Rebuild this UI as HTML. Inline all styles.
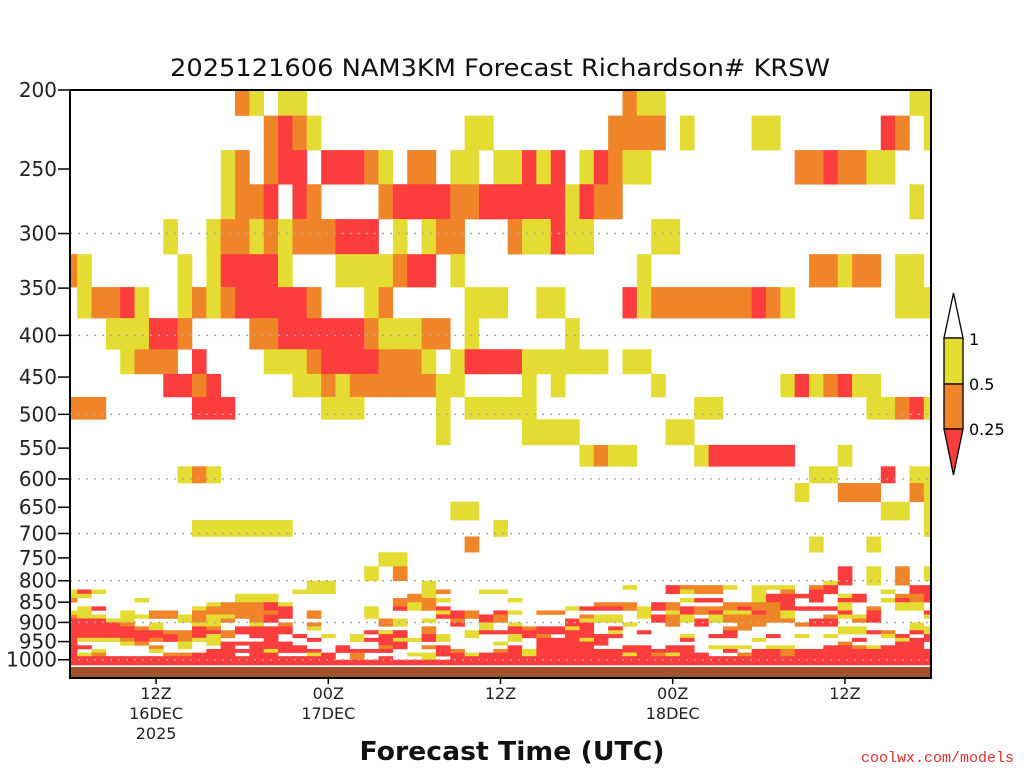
<!DOCTYPE html>
<html><head><meta charset="utf-8"><style>
html,body{margin:0;padding:0;background:#fff;}
svg{display:block;font-family:"DejaVu Sans","Liberation Sans",sans-serif;}
</style></head><body>
<svg id="chart" width="1024" height="768" viewBox="0 0 1024 768" xmlns="http://www.w3.org/2000/svg">
<rect x="0" y="0" width="1024" height="768" fill="#fff"/>
<text x="500" y="76" font-size="24" text-anchor="middle" textLength="660" lengthAdjust="spacingAndGlyphs" fill="#111">2025121606 NAM3KM Forecast Richardson# KRSW</text>
<g id="cells"></g>
<g id="grid"></g>
<rect x="70" y="667" width="861" height="10" fill="#a0522d"/>
<rect x="70" y="90" width="861" height="588" fill="none" stroke="#000" stroke-width="2"/>
<g id="yaxis"></g>
<g id="xaxis"></g>
<text x="512" y="760" font-size="26" font-weight="bold" text-anchor="middle" textLength="305" lengthAdjust="spacingAndGlyphs" fill="#111">Forecast Time (UTC)</text>
<text x="1014" y="762" font-size="15" text-anchor="end" fill="#e03030" font-family="Liberation Mono, monospace">coolwx.com/models</text>
<g>
<polygon points="944,338 953.5,293 963,338" fill="#fff" stroke="#000" stroke-width="1.3"/>
<rect x="944" y="338" width="19" height="46" fill="#e5dc33" stroke="#000" stroke-width="1.3"/>
<rect x="944" y="384" width="19" height="45" fill="#ef8429" stroke="#000" stroke-width="1.3"/>
<polygon points="944,429 963,429 953.5,475" fill="#fc3d3d" stroke="#000" stroke-width="1.3"/>
<text x="969" y="345" font-size="16">1</text>
<text x="969" y="390" font-size="16">0.5</text>
<text x="969" y="435" font-size="16">0.25</text>
</g>
</svg>
<script>
// ---- data ----
const upperBounds = [187.5,215,237,261,288,318,349,381,416,446,476,507,545,579,607,640,674,706,738,768,800];
const upperCells = [
"12o,13y,15y,16y,39o,40y,41y,59y,60y",
"14o,15r,16o,17y,28y,29y,38o,39o,40o,41o,43y,48y,49y,57r,58o,60y",
"11y,12o,14o,15r,16r,18r,19r,20r,21o,22y,24o,25o,27y,28y,30y,31y,32r,33y,34r,36y,37r,38o,39y,40y,51o,52o,53r,54o,55o,56y,57y",
"11y,12o,13o,14r,16r,17o,22o,23r,24r,25r,26r,27o,28o,29r,30r,31r,32r,33r,34r,35y,36r,37o,38o,59y",
"7y,10y,11o,12o,13y,14o,15y,16o,17o,18o,19r,20r,21r,23y,25y,26o,27o,31o,32y,33y,34r,35y,36y,41y,42y",
"0o,1y,8y,10y,11r,12r,13r,14r,15y,19y,20y,21y,22y,23o,24r,25r,27y,40y,52o,53o,54y,55o,56o,58y,59y",
"1y,2o,3o,4r,5y,8y,9o,10y,11o,12r,13r,14r,15r,16r,17o,21y,22o,28y,29y,30y,33y,34y,39r,40y,41o,42o,43o,44o,45o,46o,47o,48r,49o,50y,58y,59y,60y",
"3y,4y,5y,6r,7r,8o,13o,14o,15r,16r,17r,18r,19r,20r,21o,22y,23y,24y,25o,26o,28y,35y",
"4y,5o,6o,7o,9r,14y,15y,16y,17o,18r,19r,20r,21r,22o,23o,24o,25y,27y,28r,29r,30r,31r,32y,33y,34y,35y,36y,37y,39y,40y",
"7r,8r,9o,10r,16y,17y,18o,19y,20o,21o,22o,23o,24o,25o,26y,27y,32y,34y,41y,50y,51r,52y,53o,54r,55y,56y",
"0o,1o,2o,9r,10r,11r,18y,19y,20y,26y,28y,29y,30y,31y,32y,44y,45y,56y,57y,58o,59r,60y",
"26y,32y,33y,34y,35y,42y,43y",
"36y,37o,38y,39y,44y,45r,46r,47r,48r,49r,50r,54y",
"8y,9o,10y,52y,53y,57r,59y,60y",
"51y,54o,55o,56o,59o,60y",
"27y,28y,57y,58y,60y",
"9y,10y,11y,12y,13y,14y,15y,30y,60y",
"28o,52y,56y",
"22y,23y",
"21y,23o,54r,56y,58o,60y"
];
const lowBounds = [800,810,820,830,840,850,860,870,880,890,900,910,920,930,940,950,960,970,980,990,1000,1015];
const lowProfiles = [
"..yyo..yorrrrrrrrrrrr","..ry..yyyrrrrry.r.yrr","..y...r.yrrrrry..yorr",".........yrrrry....rr",
".......yyyorrroy...rr","....y...y..orrro...rr",".......oo.yyrro.oy.rr",".......oo...orr...orr",
"........yy..oooyy.orr","......yoooyrrry...rrr",".....yooyyyoryyy.rrrr",".....oooyo..oo.rrrrrr",
"...yyoooo..rr..r.r.rr","...yyoooooyrrr.rrrrrr","...yyrrorr.rrrrrryrrr",".....yrrr.orr..rrr.rr",
"..y..........r..rr.rr","yyy....oo.oy..r..ryrr","yyy..........y....rrr","................rr..r",
".............yy..roor","......yyy...r.r..r..r",".........oo.yrrror.rr","....oor..yy.rryrr...r",
"...ooyy.......y...y.r","yyyyooo..y.oorr.o.yyr","..o.y.ryr....yy.rrr.r",".......rror......orrr",
".......oo...yy....yrr","..y.....rryyr.....rrr",
"..y....roo..r..y.orrr","....y..y..yrryy.rrrrr","...........orr...yyrr",".......o...rrorrrrrrr",
".......o...rr.rrrrrrr","......y..rryrrrrrrrrr","......r.oyrrrryrrrrrr",".....or.yy...rrr.rrrr",
".....or.yy.ryr...rrrr",".y...oo...y.....rryrr","......yyy...r...rrrrr",".....rr.rr.......rorr",
".rr..ooyooo.....rryrr",".oy.y.rryy...yr.rrrrr",".oo.r.oo.rr.......rrr",".oo.r.oryy...r..y..rr",
".y...ooyoo.orr..yr.rr",".....oryoooo....y.orr",".yyyyoorooo...y..rrrr",".y.rrooooo...r..yrrrr",
".yorrrryyo......yoorr","...r..r...o..y...rrrr",".orrr.r..rr......rrrr","yrr...r.orr..y..rrrrr",
"r..yryyry..yy..orrrrr","...rr...yo.yy.r.orrrr","y.....orrr..r...yrrrr","..y.y.......oy..rrrrr",
"o..oryy......ryrrrrrr",".rrooyy...yyr.rrrrrrr",".rrrr..ry..yyrr..rrrr"
];
const yTicks = [200,250,300,350,400,450,500,550,600,650,700,750,800,850,900,950,1000];
const gridLevels = [300,400,500,600,700,800,900,1000];
const xTickHours = [6,18,30,42,54];
const xTickLabels = [["12Z","16DEC","2025"],["00Z","17DEC"],["12Z"],["00Z","18DEC"],["12Z"]];
const colors = {y:"#e5dc33", o:"#ef8429", r:"#fc3d3d"};
const nHours = 60;

// ---- axes ----
const X0=70, X1=931, Y0=90, PXLN=354;
function xScale(h){ return X0 + h*(X1-X0)/nHours; }
function yScale(p){ return Y0 + PXLN*Math.log(p/200); }
const NS="http://www.w3.org/2000/svg";
function mk(tag, attrs, parent){ const e=document.createElementNS(NS,tag); for(const k in attrs) e.setAttribute(k,attrs[k]); parent.appendChild(e); return e; }

const cells=document.getElementById('cells');
function drawCell(col, pTop, pBot, ch){
  const xa=Math.max(X0, xScale(col-0.5)), xb=Math.min(X1, xScale(col+0.5));
  const ya=Math.max(Y0, yScale(pTop)), yb=yScale(pBot);
  const r=mk('rect',{x:xa.toFixed(2),y:ya.toFixed(2),width:(xb-xa+0.3).toFixed(2),height:(yb-ya+0.3).toFixed(2),fill:colors[ch]},cells);
  
  
}
upperCells.forEach((row,i)=>{
  if(!row) return;
  row.split(',').forEach(tok=>{
    const c=parseInt(tok,10), ch=tok.slice(-1);
    drawCell(c, upperBounds[i], upperBounds[i+1], ch);
  });
});
lowProfiles.forEach((prof,c)=>{
  for(let j=0;j<prof.length;j++){
    const ch=prof[j];
    if(ch!=='.') drawCell(c, lowBounds[j], lowBounds[j+1], ch);
  }
});

const grid=document.getElementById('grid');
gridLevels.forEach(p=>{
  const y=yScale(p);
  const l=mk('line',{x1:X0,x2:X1,y1:y,y2:y,stroke:"#aaa","stroke-width":1.5,"stroke-dasharray":"2,6"},grid);
  
  
});

const ya=document.getElementById('yaxis');
yTicks.forEach(p=>{
  const y=yScale(p);
  const t=mk('line',{x1:58,x2:70,y1:y,y2:y,stroke:"#000","stroke-width":1.5},ya);
  
  
  const tx=mk('text',{x:57,y:y+7,"font-size":20,"text-anchor":"end",fill:"#222"},ya);
  tx.textContent=String(p);
  
  
});

const xa=document.getElementById('xaxis');
xTickHours.forEach((h,i)=>{
  const x=xScale(h);
  const t=mk('line',{x1:x,x2:x,y1:678,y2:684,stroke:"#000","stroke-width":1.5},xa);
  
  
  xTickLabels[i].forEach((s,k)=>{
    const tx=mk('text',{x:x,y:699+k*20,"font-size":16,"text-anchor":"middle",fill:"#222"},xa);
    tx.textContent=s;
    
    
  });
});
</script>
</body></html>
